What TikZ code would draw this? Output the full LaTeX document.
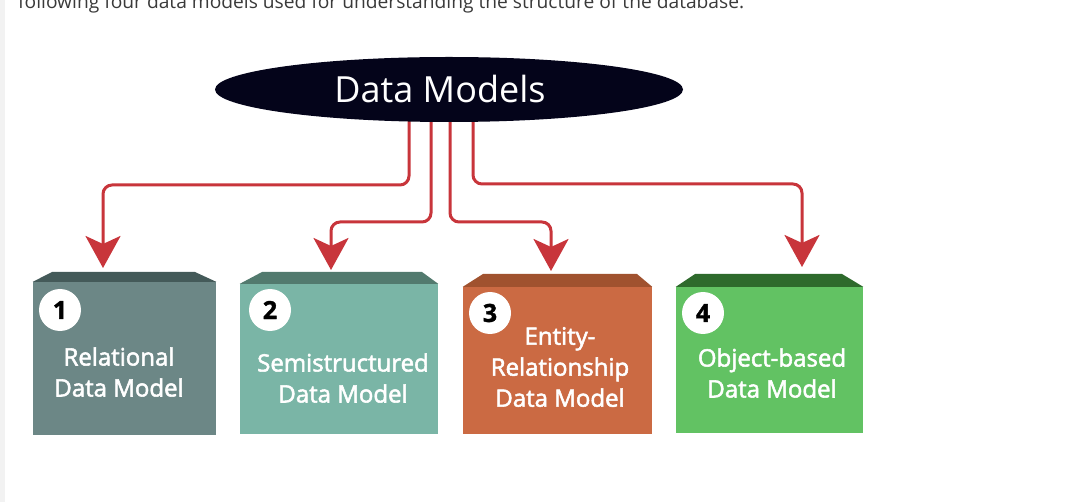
\documentclass[tikz,border=0pt]{standalone}
\usepackage{fontspec}
\setmainfont{Open Sans}
\newfontfamily\semib[FakeBold=2.2]{Open Sans}
\newfontfamily\numfont[FakeBold=1.5]{Open Sans}
\usetikzlibrary{arrows.meta,shapes.geometric}
\definecolor{wirered}{HTML}{C8353B}
\definecolor{ellcol}{HTML}{04041A}
\definecolor{fa}{HTML}{6C8786}\definecolor{ta}{HTML}{445A59}
\definecolor{fb}{HTML}{7AB5A6}\definecolor{tb}{HTML}{527A6E}
\definecolor{fc}{HTML}{CB6A43}\definecolor{tc}{HTML}{A0522F}
\definecolor{fd}{HTML}{62C263}\definecolor{td}{HTML}{2E6A2C}
\definecolor{strip}{HTML}{F2F2F2}
\definecolor{toptext}{HTML}{3A3A3A}
\tikzset{
  wire/.style={draw=wirered,line width=3pt,rounded corners=9pt,
    -{Stealth[length=32pt,width=35pt,inset=8pt]}},
  face/.style={rectangle,inner sep=0pt,draw=none},
  label/.style={text=white,align=center,font=\semib\fontsize{24}{31}\selectfont},
  num/.style={circle,fill=white,inner sep=0pt,minimum size=42pt,
    font=\numfont\bfseries\fontsize{25}{25}\selectfont,text=black}
}
\begin{document}
\begin{tikzpicture}[x=1pt,y=-1pt]
\useasboundingbox (0,0) rectangle (1083,502);
\fill[white] (0,0) rectangle (1083,502);
\fill[strip] (0,0) rectangle (5,502);
\node[anchor=base west,inner sep=0pt,text=toptext,font=\fontsize{19.2}{20}\selectfont] (intro) at (18,9)
  {following four data models used for understanding the structure of the database.};

% boxes
\node[face,fill=fa,minimum width=183pt,minimum height=153pt] (b1) at (124.5,358.5) {};
\fill[ta] (b1.north west) -- (52,272) -- (195,272) -- (b1.north east) -- cycle;
\node[face,fill=fb,minimum width=198pt,minimum height=150pt] (b2) at (339,359) {};
\fill[tb] (b2.north west) -- (262,272) -- (422,272) -- (b2.north east) -- cycle;
\node[face,fill=fc,minimum width=189pt,minimum height=147pt] (b3) at (557.5,360.5) {};
\fill[tc] (b3.north west) -- (483,274) -- (637,274) -- (b3.north east) -- cycle;
\node[face,fill=fd,minimum width=187pt,minimum height=146pt] (b4) at (769.5,360) {};
\fill[td] (b4.north west) -- (695,274) -- (842,274) -- (b4.north east) -- cycle;

\node[num] (n1) at (60,310) {1};
\node[num] (n2) at (270,310) {2};
\node[num] (n3) at (490,313) {3};
\node[num] (n4) at (703,313) {4};

\node[label] (l1) at (119,372) {Relational\\Data Model};
\node[label] (l2) at (343,378) {Semistructured\\Data Model};
\node[label] (l3) at (560,367) {Entity-\\Relationship\\Data Model};
\node[label] (l4) at (772,373) {Object-based\\Data Model};

% wires
\coordinate (s1) at (409,110);
\coordinate (s2) at (431,110);
\coordinate (s3) at (450,110);
\coordinate (s4) at (473,110);
\coordinate (e1) at (103,185);
\coordinate (e2) at (331,222);
\coordinate (e3) at (551,222);
\coordinate (e4) at (802,184);
\coordinate (t1) at (103,268);
\coordinate (t2) at (331,270);
\coordinate (t3) at (551,271);
\coordinate (t4) at (802,267);
\draw[wire] (s1) |- (e1) -- (t1);
\draw[wire] (s2) |- (e2) -- (t2);
\draw[wire] (s3) |- (e3) -- (t3);
\draw[wire] (s4) |- (e4) -- (t4);

% ellipse
\node[ellipse,fill=ellcol,minimum width=468pt,minimum height=65pt,inner sep=0pt] (dm) at (449,89.5) {};
\node[text=white,inner sep=0pt,font=\fontsize{36}{36}\selectfont] (dmt) at (440,89) {Data Models};
\end{tikzpicture}
\end{document}
